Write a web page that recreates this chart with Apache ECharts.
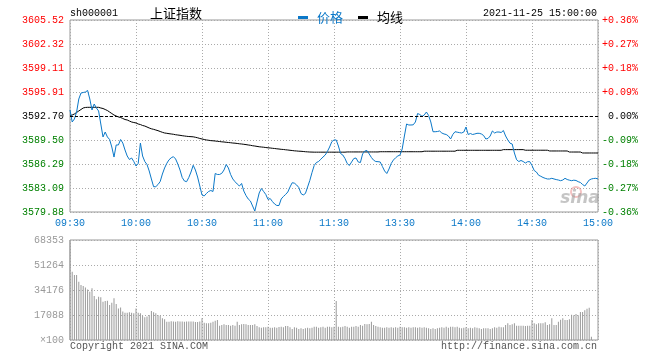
<!DOCTYPE html>
<html><head><meta charset="utf-8">
<script src="https://cdn.jsdelivr.net/npm/echarts@6/dist/echarts.min.js"></script>
<style>html,body{margin:0;padding:0;background:#fff}#c{width:660px;height:360px}</style>
</head><body><div id="c"></div>
<script>
const symbolCode = 'sh000001';
const titleName = '上证指数';
const stampText = '2021-11-25 15:00:00';
const copyrightText = 'Copyright 2021 SINA.COM';
const siteText = 'http://finance.sina.com.cn';
const seriesNames = ['价格', '均线'];
const preClose = 3592.70;
const priceMin = 3579.88;
const priceMax = 3605.52;
const volMax = 68353;
const priceTickLabels = ['3579.88','3583.09','3586.29','3589.50','3592.70','3595.91','3599.11','3602.32','3605.52'];
const pctTickLabels = ['-0.36%','-0.27%','-0.18%','-0.09%','0.00%','+0.09%','+0.18%','+0.27%','+0.36%'];
const volTickLabels = ['×100','17088','34176','51264','68353'];
const xTickLabels = ['09:30','10:00','10:30','11:00','11:30','13:30','14:00','14:30','15:00'];

const price = [
3593.50,3591.90,3592.30,3593.23,3594.97,3595.77,3595.84,3595.90,3596.11,3594.97,
3593.50,3594.30,3593.77,3593.37,3591.63,3589.90,3590.56,3589.90,3589.56,3588.56,
3587.22,3588.83,3588.83,3589.56,3589.09,3588.16,3587.36,3586.89,3587.09,3586.62,
3586.02,3586.36,3589.09,3587.36,3586.62,3586.22,3585.36,3584.29,3583.26,3583.26,
3583.55,3583.95,3584.95,3585.76,3586.38,3586.85,3587.12,3587.27,3586.96,3586.29,
3585.49,3584.49,3584.02,3583.93,3584.49,3585.22,3586.12,3585.49,3584.55,3583.35,
3582.15,3582.02,3582.35,3582.62,3582.75,3582.62,3585.02,3584.89,3584.89,3585.05,
3585.49,3586.22,3585.76,3584.89,3584.29,3583.93,3583.62,3583.35,3583.69,3582.68,
3582.08,3581.62,3581.35,3580.68,3580.01,3581.22,3582.42,3583.02,3582.62,3582.22,
3581.55,3581.68,3581.28,3580.95,3580.75,3580.75,3581.62,3581.95,3582.22,3582.55,
3583.22,3583.79,3583.73,3583.49,3583.15,3582.35,3582.15,3582.35,3583.22,3584.09,
3585.15,3586.09,3586.49,3586.62,3586.93,3587.22,3587.49,3587.96,3588.56,3589.27,
3589.50,3589.50,3588.69,3587.69,3587.49,3587.02,3586.36,3586.09,3586.56,3587.02,
3587.09,3586.56,3586.49,3587.63,3588.03,3588.09,3587.63,3587.16,3586.80,3586.62,
3586.60,3586.56,3585.96,3585.36,3585.02,3585.62,3586.36,3586.82,3587.12,3587.36,
3587.49,3588.29,3590.03,3591.63,3591.50,3591.50,3591.52,3591.90,3593.03,3592.90,
3592.65,3592.83,3593.23,3592.77,3591.90,3590.60,3590.60,3590.63,3590.70,3590.43,
3590.30,3590.23,3590.03,3589.63,3590.23,3590.60,3590.54,3590.48,3590.43,3590.56,
3591.23,3590.23,3590.36,3590.23,3590.30,3590.39,3590.39,3590.30,3590.10,3589.63,
3589.70,3590.03,3590.70,3590.43,3590.56,3590.56,3590.50,3590.76,3590.03,3589.50,
3589.07,3588.96,3587.76,3586.86,3586.62,3586.76,3586.62,3586.42,3586.60,3586.60,
3586.09,3585.42,3585.22,3584.79,3584.65,3584.49,3584.38,3584.29,3584.29,3584.38,
3584.29,3584.21,3584.15,3584.06,3584.15,3584.38,3584.22,3584.13,3584.06,3584.13,
3584.09,3583.93,3583.82,3583.55,3583.35,3583.75,3584.15,3584.29,3584.35,3584.38,
3584.29
];

const avgPrice = [
3592.77,3592.83,3592.97,3593.17,3593.37,3593.57,3593.77,3593.84,3593.86,3593.86,
3593.86,3593.86,3593.86,3593.86,3593.77,3593.70,3593.57,3593.43,3593.23,3593.03,
3592.83,3592.70,3592.57,3592.50,3592.37,3592.23,3592.17,3592.03,3591.90,3591.83,
3591.77,3591.63,3591.56,3591.43,3591.36,3591.23,3591.10,3590.99,3590.92,3590.83,
3590.74,3590.63,3590.52,3590.43,3590.39,3590.34,3590.30,3590.26,3590.20,3590.16,
3590.12,3590.07,3590.03,3589.99,3589.96,3589.94,3589.92,3589.86,3589.79,3589.70,
3589.63,3589.56,3589.50,3589.46,3589.41,3589.39,3589.36,3589.32,3589.29,3589.25,
3589.23,3589.19,3589.16,3589.13,3589.09,3589.07,3589.03,3588.99,3588.96,3588.92,
3588.88,3588.83,3588.79,3588.73,3588.69,3588.64,3588.59,3588.56,3588.53,3588.49,
3588.45,3588.43,3588.39,3588.36,3588.32,3588.29,3588.25,3588.23,3588.19,3588.16,
3588.12,3588.09,3588.05,3588.03,3588.00,3587.99,3587.96,3587.93,3587.91,3587.89,
3587.88,3587.87,3587.87,3587.87,3587.87,3587.87,3587.87,3587.87,3587.87,3587.87,
3587.87,3587.87,3587.87,3587.87,3587.87,3587.87,3587.90,3587.90,3587.90,3587.90,
3587.90,3587.90,3587.90,3587.90,3587.90,3587.90,3587.90,3587.90,3587.90,3587.90,
3587.90,3587.93,3587.93,3587.93,3587.93,3587.93,3587.93,3587.93,3587.93,3587.93,
3587.93,3587.93,3587.93,3587.93,3587.93,3587.93,3587.93,3587.93,3587.93,3587.93,
3587.93,3588.00,3588.00,3588.00,3588.00,3588.00,3588.00,3588.00,3588.00,3588.00,
3588.00,3588.00,3588.00,3588.00,3588.00,3588.00,3588.12,3588.12,3588.12,3588.12,
3588.12,3588.12,3588.12,3588.12,3588.12,3588.12,3588.12,3588.12,3588.12,3588.12,
3588.12,3588.12,3588.12,3588.12,3588.12,3588.12,3588.12,3588.21,3588.21,3588.21,
3588.21,3588.21,3588.21,3588.21,3588.21,3588.21,3588.21,3588.13,3588.13,3588.13,
3588.13,3588.13,3588.13,3588.13,3588.13,3588.13,3588.13,3588.13,3588.03,3588.03,
3588.03,3588.03,3588.03,3588.03,3588.03,3588.03,3588.03,3587.89,3587.89,3587.89,
3587.89,3587.89,3587.89,3587.76,3587.76,3587.76,3587.76,3587.76,3587.76,3587.76,
3587.76
];

const volume = [
68353,46700,44400,44400,39900,37600,36900,35800,34600,33000,
35300,30100,27800,29600,29200,26200,26700,26900,23900,25500,
28500,24600,21600,22300,19400,18700,18700,18900,18700,18200,
21600,18700,18200,16400,15500,16000,17100,19800,18900,18200,
17100,16600,14800,14100,12500,12500,12900,12700,12500,12900,
12700,12700,12500,12700,12700,12700,12700,12300,12300,12700,
14800,11850,11390,11400,11850,12500,13200,13670,9800,10250,
10710,10250,10250,9800,10250,9800,12530,10250,10710,10900,
10710,10250,10250,10250,10710,9570,8660,8430,8660,8660,
9110,8430,8430,8660,8430,8880,9110,8660,9570,9570,
8660,7520,8660,8430,7520,7970,7520,7970,8430,7970,
8430,9110,9110,8430,8660,9110,8430,9110,9110,8660,
9110,26660,9110,8660,9110,9570,9110,8430,9110,9110,
9570,9110,10250,9800,10900,10710,10900,12530,10250,9570,
9110,8660,8430,8430,8660,8430,8660,8430,8660,8430,
9110,8660,8660,8430,8660,8430,8660,8660,8430,8660,
8430,8660,8430,7970,7520,7970,7520,7970,8430,8660,
8430,9110,8430,9110,9110,8660,9110,8430,7970,8430,
8660,7970,8430,7970,8660,8430,7970,7520,7970,7970,
7970,7520,7970,8660,8430,9110,8660,8660,10250,11390,
10250,10710,11390,9800,9800,9800,9800,9570,9800,9800,
13670,11390,10710,11390,11390,11390,12070,10250,10710,14810,
10250,10250,12530,13900,14810,13670,13670,14130,17320,16860,
17770,16860,19140,19140,20280,21410,22100,2280,0,0,
0
];

// minute categories: 09:30..11:30, 13:01..15:00
function pad(n){return (n<10?'0':'')+n;}
const times = [];
for (let m = 9*60+30; m <= 11*60+30; m++) times.push(pad(Math.floor(m/60))+':'+pad(m%60));
for (let m = 13*60+1; m <= 15*60; m++) times.push(pad(Math.floor(m/60))+':'+pad(m%60));

const priceColor = '#0b78c8';
const mono = '"Liberation Mono", "DejaVu Sans Mono", monospace';
const cjk = '"Noto Sans CJK SC", sans-serif';
const gridColor = '#aaaaaa';
const borderColor = '#999999';
const labelStep = 30;

function labelColor(v, i){ return i > 4 ? '#ff0000' : (i === 4 ? '#000000' : '#008000'); }

const chart = echarts.init(document.getElementById('c'), null, {renderer: 'canvas'});
chart.setOption({
  animation: false,
  backgroundColor: '#ffffff',
  grid: [
    {left: 70, top: 20, width: 528, height: 192, show: true, borderColor: borderColor, borderWidth: 1, backgroundColor: 'transparent'},
    {left: 70, top: 240, width: 528, height: 100, show: true, borderColor: borderColor, borderWidth: 1, backgroundColor: 'transparent'}
  ],
  legend: {
    left: 293, top: 6, icon: 'rect', itemWidth: 10, itemHeight: 3, itemGap: 15, selectedMode: false,
    textStyle: {fontSize: 13, fontFamily: cjk, padding: [0,0,0,4]},
    data: [
      {name: seriesNames[0], itemStyle: {color: priceColor}, textStyle: {color: priceColor}},
      {name: seriesNames[1], itemStyle: {color: '#000'}, textStyle: {color: '#000'}}
    ]
  },
  xAxis: [
    {type: 'category', gridIndex: 0, data: times, boundaryGap: false,
     axisLine: {show: false}, axisTick: {show: false},
     axisLabel: {interval: labelStep-1, color: priceColor, fontFamily: mono, fontSize: 10, margin: 6,
       formatter: function(v, i){ return xTickLabels[Math.round(i/labelStep)] || v; }},
     splitLine: {show: true, interval: labelStep-1, lineStyle: {color: gridColor, type: [1,2], width: 1}}},
    {type: 'category', gridIndex: 1, data: times, boundaryGap: false,
     axisLine: {show: false}, axisTick: {show: false}, axisLabel: {show: false},
     splitLine: {show: true, interval: labelStep-1, lineStyle: {color: gridColor, type: [1,2], width: 1}}}
  ],
  yAxis: [
    {type: 'value', gridIndex: 0, position: 'left', min: priceMin, max: priceMax, interval: (priceMax-priceMin)/8,
     axisLine: {show: false}, axisTick: {show: false},
     axisLabel: {fontFamily: mono, fontSize: 10, margin: 6, color: labelColor,
       formatter: function(v, i){ return priceTickLabels[i]; }},
     splitLine: {show: true, lineStyle: {color: gridColor, type: [1,2], width: 1}}},
    {type: 'value', gridIndex: 0, position: 'right', min: priceMin, max: priceMax, interval: (priceMax-priceMin)/8,
     axisLine: {show: false}, axisTick: {show: false},
     axisLabel: {fontFamily: mono, fontSize: 10, margin: 40, align: 'right', color: labelColor,
       formatter: function(v, i){ return pctTickLabels[i]; }},
     splitLine: {show: false}},
    {type: 'value', gridIndex: 1, position: 'left', min: 0, max: volMax, interval: volMax/4,
     axisLine: {show: false}, axisTick: {show: false},
     axisLabel: {fontFamily: mono, fontSize: 10, margin: 6, color: '#999999',
       formatter: function(v, i){ return volTickLabels[i]; }},
     splitLine: {show: true, lineStyle: {color: gridColor, type: [1,2], width: 1}}}
  ],
  series: [
    {name: seriesNames[0], type: 'line', xAxisIndex: 0, yAxisIndex: 0, data: price, color: priceColor,
     showSymbol: false, symbol: 'none', lineStyle: {color: priceColor, width: 1}, z: 3,
     markLine: {silent: true, symbol: ['none','none'], label: {show: false}, animation: false,
       lineStyle: {color: '#000', type: [3,2], width: 1}, data: [{yAxis: preClose}]}},
    {name: seriesNames[1], type: 'line', xAxisIndex: 0, yAxisIndex: 0, data: avgPrice, color: '#000',
     showSymbol: false, symbol: 'none', lineStyle: {color: '#000', width: 1}, z: 2},
    {name: 'volume', type: 'bar', xAxisIndex: 1, yAxisIndex: 2, data: volume, barWidth: 1, clip: false,
     itemStyle: {color: '#999999'}}
  ],
  graphic: [
    {type: 'text', x: 70, y: 13, style: {text: symbolCode, font: '10px ' + mono, fill: '#000', align: 'left', verticalAlign: 'middle'}},
    {type: 'text', x: 150, y: 13, style: {text: titleName, font: '13px ' + cjk, fill: '#000', align: 'left', verticalAlign: 'middle'}},
    {type: 'text', x: 597, y: 13, style: {text: stampText, font: '10px ' + mono, fill: '#000', align: 'right', verticalAlign: 'middle'}},
    {type: 'text', x: 70, y: 346, style: {text: copyrightText, font: '10px ' + mono, fill: '#555', align: 'left', verticalAlign: 'middle'}},
    {type: 'text', x: 597, y: 346, style: {text: siteText, font: '10px ' + mono, fill: '#555', align: 'right', verticalAlign: 'middle'}},
    {type: 'circle', shape: {cx: 576, cy: 192, r: 5}, style: {fill: 'none', stroke: 'rgba(230,120,120,0.45)', lineWidth: 2}, z: 1},
    {type: 'text', x: 580, y: 199, style: {text: 'sina', font: 'italic bold 17px "DejaVu Sans", sans-serif', fill: 'rgba(150,150,150,0.55)', align: 'center', verticalAlign: 'middle'}, z: 1}
  ]
});
</script>
</body></html>
